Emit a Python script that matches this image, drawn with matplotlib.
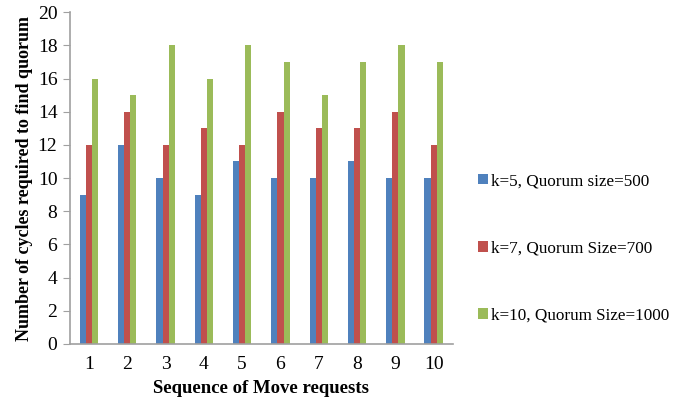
import numpy as np
import matplotlib.pyplot as plt

# data
requests = ['1', '2', '3', '4', '5', '6', '7', '8', '9', '10']
k5_q500 = [9, 12, 10, 9, 11, 10, 10, 11, 10, 10]
k7_q700 = [12, 14, 12, 13, 12, 14, 13, 13, 14, 12]
k10_q1000 = [16, 15, 18, 16, 18, 17, 15, 17, 18, 17]

series_labels = ['k=5, Quorum size=500', 'k=7, Quorum Size=700', 'k=10, Quorum Size=1000']
colors = ['#4F81BD', '#C0504D', '#9BBB59']

plt.rcParams['font.family'] = ['Liberation Serif', 'DejaVu Serif']

fig = plt.figure(figsize=(6.85, 4.07), dpi=100)
ax = fig.add_axes([0.102, 0.155, 0.559, 0.815])

x = np.arange(len(requests))
width = 0.16
for i, (vals, lab, col) in enumerate(zip([k5_q500, k7_q700, k10_q1000], series_labels, colors)):
    ax.bar(x + (i - 1) * width, vals, width, color=col, label=lab)

ax.set_xlim(-0.5, len(requests) - 0.5)
ax.set_ylim(0, 20)
ax.set_yticks(range(0, 21, 2))
ax.set_xticks(x)
ax.set_xticklabels(requests)

for s in ['top', 'right']:
    ax.spines[s].set_visible(False)
for s in ['left', 'bottom']:
    ax.spines[s].set_color('#a0a0a0')
    ax.spines[s].set_linewidth(1.2)

ax.tick_params(axis='y', length=5, color='#a0a0a0', labelsize=14, pad=4)
ax.tick_params(axis='x', length=0, labelsize=14, pad=9)

ax.set_xlabel('Sequence of Move requests', fontsize=13.5, fontweight='bold', labelpad=5)
ax.set_ylabel('Number of cycles required to find quorum', fontsize=13, fontweight='bold', labelpad=3)

handles, labels = ax.get_legend_handles_labels()
fig.legend(handles, labels, loc='center left', bbox_to_anchor=(0.68, 0.39),
           frameon=False, fontsize=12.3, labelspacing=3.0,
           handlelength=0.6, handleheight=0.6, handletextpad=0.15,
           borderpad=0.2)

fig.savefig('out.png', dpi=100)
